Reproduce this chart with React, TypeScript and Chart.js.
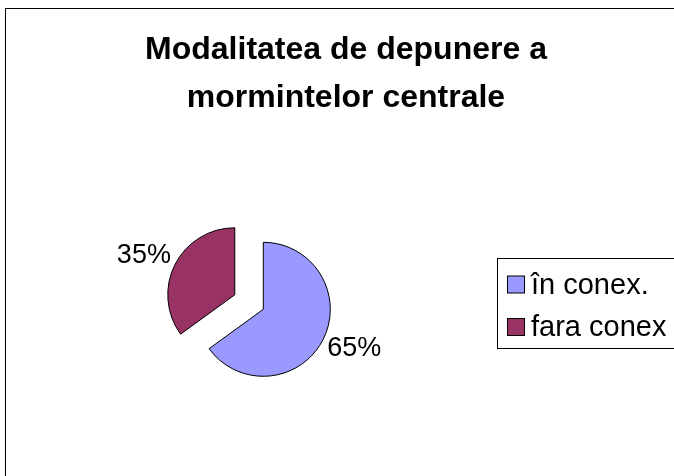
import React, { useEffect, useRef } from "react";
import { Chart, registerables } from "chart.js";

Chart.register(...registerables);

const TITLE_LINES = ["Modalitatea de depunere a", "mormintelor centrale"];
const CATEGORIES = ["în conex.", "fara conex"];
const PERCENTAGES = [65, 35];
const COLORS = ["#9999FF", "#993366"];
const EXPLODE = [0, 32];

const FONT = '"Liberation Sans", Arial, Helvetica, sans-serif';

const explodePlugin = {
  id: "explodeSlices",
  afterDatasetUpdate(chart: any, args: any) {
    const meta = args.meta;
    meta.data.forEach((el: any, i: number) => {
      const d = EXPLODE[i] || 0;
      if (!d) return;
      const mid = (el.startAngle + el.endAngle) / 2;
      el.x += Math.cos(mid) * d;
      el.y += Math.sin(mid) * d;
    });
  },
};

const labelPlugin = {
  id: "pctLabels",
  afterDatasetsDraw(chart: any) {
    const ctx = chart.ctx;
    const meta = chart.getDatasetMeta(0);
    ctx.save();
    ctx.font = `27px ${FONT}`;
    ctx.fillStyle = "#000";
    ctx.textAlign = "center";
    ctx.textBaseline = "middle";
    meta.data.forEach((el: any, i: number) => {
      const mid = (el.startAngle + el.endAngle) / 2;
      const text = `${PERCENTAGES[i]}%`;
      const w = ctx.measureText(text).width;
      const h = 24;
      const r = el.outerRadius + 8;
      const cx = el.x + Math.cos(mid) * (r + w / 2);
      const cy = el.y + Math.sin(mid) * (r + h / 2);
      ctx.fillText(text, cx, cy);
    });
    ctx.restore();
  },
};

const titlePlugin = {
  id: "titleText",
  afterDraw(chart: any) {
    const ctx = chart.ctx;
    ctx.save();
    ctx.font = `bold 32px ${FONT}`;
    ctx.fillStyle = "#000";
    ctx.textAlign = "center";
    ctx.textBaseline = "alphabetic";
    TITLE_LINES.forEach((line, i) => {
      ctx.fillText(line, 340, 50 + i * 48);
    });
    ctx.restore();
  },
};

const legendPlugin = {
  id: "boxLegend",
  afterDraw(chart: any) {
    const ctx = chart.ctx;
    const ds = chart.data.datasets[0];
    const labels = chart.data.labels as string[];
    ctx.save();
    ctx.strokeStyle = "#000";
    ctx.lineWidth = 1;
    ctx.strokeRect(491.5, 249.5, 300, 90);
    ctx.font = `29px ${FONT}`;
    ctx.textAlign = "left";
    ctx.textBaseline = "middle";
    labels.forEach((lab, i) => {
      const cy = 275.5 + i * 42.5;
      ctx.fillStyle = ds.backgroundColor[i];
      ctx.fillRect(501.5, cy - 8.5, 17, 17);
      ctx.strokeRect(501.5, cy - 8.5, 17, 17);
      ctx.fillStyle = "#000";
      ctx.fillText(lab, 525, cy + 1);
    });
    ctx.restore();
  },
};

export default function App() {
  const ref = useRef<HTMLCanvasElement>(null);
  useEffect(() => {
    document.body.style.margin = "0";
    document.body.style.overflow = "hidden";
    const chart = new Chart(ref.current as HTMLCanvasElement, {
      type: "pie",
      data: {
        labels: CATEGORIES,
        datasets: [
          {
            data: PERCENTAGES,
            backgroundColor: COLORS,
            borderColor: "#000",
            borderWidth: 1,
            radius: 67,
          } as any,
        ],
      },
      options: {
        responsive: false,
        animation: false,
        events: [],
        layout: { padding: { left: 0, right: 175.4, top: 150, bottom: 19.4 } },
        plugins: {
          legend: { display: false },
          title: { display: false },
          tooltip: { enabled: false },
        },
      },
      plugins: [explodePlugin, labelPlugin, titlePlugin, legendPlugin],
    });
    return () => chart.destroy();
  }, []);
  return (
    <div style={{ position: "relative", width: 674, height: 476, overflow: "hidden", background: "#fff" }}>
      <div
        style={{
          position: "absolute",
          left: 5,
          top: 8,
          width: 692,
          height: 472,
          border: "1px solid #000",
          boxSizing: "border-box",
        }}
      >
        <canvas ref={ref} width={690} height={470} style={{ display: "block" }} />
      </div>
    </div>
  );
}
